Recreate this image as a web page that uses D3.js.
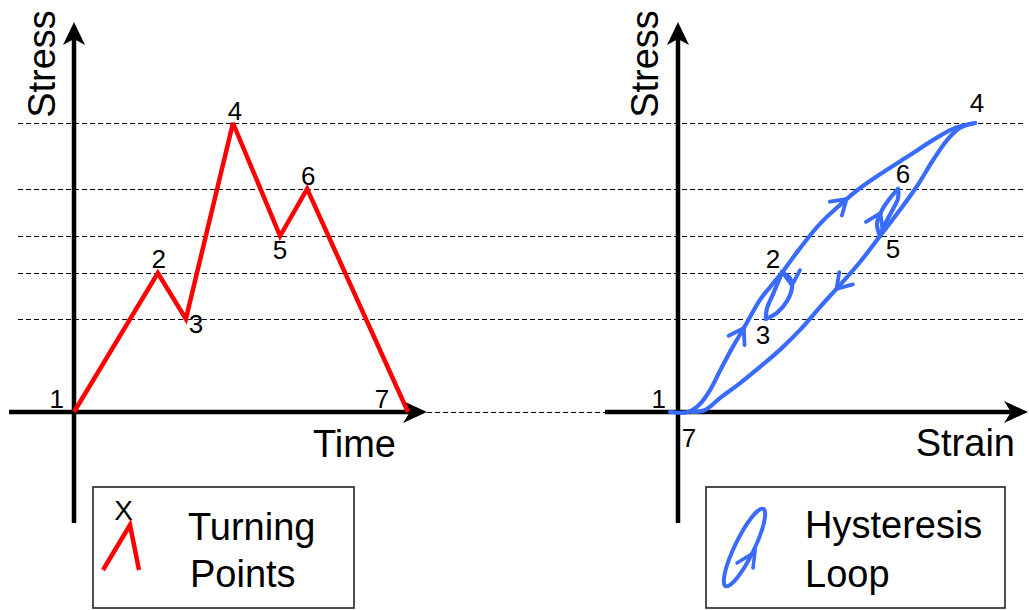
<!DOCTYPE html>
<html>
<head>
<meta charset="utf-8">
<script src="https://cdn.jsdelivr.net/npm/d3@7"></script>
<style>
  html, body { margin: 0; padding: 0; background: #ffffff; }
  svg { display: block; }
  text { font-family: "Liberation Sans", Arial, sans-serif; fill: #000; }
</style>
</head>
<body>
<svg id="chart" width="1029" height="610"></svg>
<script>
// Turning points of the stress history (left panel)
const pointLabels = ["1", "2", "3", "4", "5", "6", "7"];
const turnTime    = [0, 2.51, 3.35, 4.76, 6.17, 6.98, 10];
const turnStress  = [0, 4.81, 3.22, 10, 6.09, 7.72, 0];

// Stress-strain response (right panel), one array per reversal: [strain, stress]
const branch12 = [[-0.27, 0], [0.34, 0], [0.74, 0.28], [1.08, 0.76], [1.41, 1.42],
                  [1.82, 2.21], [2.26, 2.98], [2.76, 3.88], [3.13, 4.36], [3.50, 4.81]];
const branch23 = [[3.50, 4.81], [3.74, 4.67], [3.84, 4.33], [3.67, 3.84], [3.33, 3.43], [2.96, 3.22]];
const branch32 = [[2.96, 3.22], [2.99, 3.56], [3.20, 4.08], [3.50, 4.81]];
const branch24 = [[3.50, 4.81], [4.11, 5.67], [4.78, 6.51], [5.45, 7.16], [6.13, 7.75],
                  [6.97, 8.34], [7.81, 8.89], [8.65, 9.45], [9.33, 9.83], [10, 10]];
const branch45 = [[10, 10], [9.49, 9.83], [9.06, 9.41], [8.59, 8.72], [8.05, 7.82],
                  [7.47, 6.99], [6.80, 6.09]];
const branch56 = [[6.80, 6.09], [6.70, 6.51], [6.87, 6.99], [7.17, 7.44], [7.41, 7.72]];
const branch65 = [[7.41, 7.72], [7.41, 7.40], [7.17, 6.89], [6.94, 6.44], [6.80, 6.09]];
const branch57 = [[6.80, 6.09], [6.13, 5.19], [5.45, 4.39], [4.78, 3.63], [4.11, 2.84],
                  [3.43, 2.15], [2.76, 1.56], [2.09, 1.00], [1.41, 0.48], [0.91, 0.07], [0.47, 0]];
const hysteresisBranches = [branch12, branch23, branch32, branch24, branch45, branch56, branch65, branch57];

// Direction markers: [branch index, stress level at which the arrow sits]
const branchArrows = [[0, 2.91], [1, 4.39], [3, 7.37], [5, 6.89], [7, 4.26]];

// Labels for the right-panel turning points
const hystLabels = ["1", "2", "3", "4", "5", "6", "7"];

const RED = "#ff0000";
const BLUE = "#3a6bff";

const svg = d3.select("#chart");

// Scales
const xTime   = d3.scaleLinear().domain([0, 10]).range([74, 408]);
const yStress = d3.scaleLinear().domain([0, 10]).range([412, 123]);
const xStrain = d3.scaleLinear().domain([0, 10]).range([678, 975]);

// ---- Dashed reference levels at the turning-point stresses ----
const levels = Array.from(new Set(turnStress.filter(s => s > 0)));
const gGrid = svg.append("g");
gGrid.selectAll("line.level").data(levels).join("line")
  .attr("class", "level")
  .attr("x1", 18).attr("x2", 1026)
  .attr("y1", d => Math.round(yStress(d)) + 0.5).attr("y2", d => Math.round(yStress(d)) + 0.5)
  .attr("stroke", "#000").attr("stroke-width", 1.2)
  .attr("stroke-dasharray", "5,3");
gGrid.append("line")
  .attr("x1", 427).attr("x2", 606)
  .attr("y1", yStress(0) + 0.5).attr("y2", yStress(0) + 0.5)
  .attr("stroke", "#000").attr("stroke-width", 1.2)
  .attr("stroke-dasharray", "5,3");

// ---- Axes with arrowheads ----
function drawAxes(g, x0, y0, xStart, xTip, yBottom, yTip) {
  g.append("line").attr("x1", xStart).attr("x2", xTip - 16)
    .attr("y1", y0).attr("y2", y0).attr("stroke", "#000").attr("stroke-width", 4.5);
  g.append("line").attr("x1", x0).attr("x2", x0)
    .attr("y1", yBottom).attr("y2", yTip + 16).attr("stroke", "#000").attr("stroke-width", 4.5);
  g.append("path")
    .attr("d", `M${xTip},${y0} L${xTip - 24},${y0 - 11} L${xTip - 17},${y0} L${xTip - 24},${y0 + 11} Z`)
    .attr("fill", "#000");
  g.append("path")
    .attr("d", `M${x0},${yTip} L${x0 - 11},${yTip + 23} L${x0},${yTip + 17} L${x0 + 11},${yTip + 23} Z`)
    .attr("fill", "#000");
}
drawAxes(svg.append("g"), xTime(0), yStress(0), 9, 427, 523, 22);
drawAxes(svg.append("g"), xStrain(0), yStress(0), 605, 1028, 523, 22);

// Axis titles
svg.append("text").attr("transform", "translate(55,64) rotate(-90)")
  .attr("text-anchor", "middle").attr("font-size", 38).text("Stress");
svg.append("text").attr("x", 396).attr("y", 457)
  .attr("text-anchor", "end").attr("font-size", 38).text("Time");
svg.append("text").attr("transform", "translate(658,64) rotate(-90)")
  .attr("text-anchor", "middle").attr("font-size", 38).text("Stress");
svg.append("text").attr("x", 1015).attr("y", 456)
  .attr("text-anchor", "end").attr("font-size", 38).text("Strain");

// ---- Left panel: stress history ----
const history = turnTime.map((t, i) => [t, turnStress[i]]);
svg.append("path")
  .datum(history)
  .attr("d", d3.line().x(d => xTime(d[0])).y(d => yStress(d[1])))
  .attr("fill", "none").attr("stroke", RED).attr("stroke-width", 4.5)
  .attr("stroke-linejoin", "miter").attr("stroke-miterlimit", 3);

// Label offsets (px) around each turning point
const leftOffsets = [[-10, -4, "end"], [1, -5, "middle"], [10, 14, "middle"], [2, -3, "middle"],
                     [0, 23, "middle"], [1, -4, "middle"], [-26, -4, "middle"]];
svg.append("g").selectAll("text").data(pointLabels).join("text")
  .attr("x", (d, i) => xTime(turnTime[i]) + leftOffsets[i][0])
  .attr("y", (d, i) => yStress(turnStress[i]) + leftOffsets[i][1])
  .attr("text-anchor", (d, i) => leftOffsets[i][2])
  .attr("font-size", 26).text(d => d);

// ---- Right panel: hysteresis response ----
const hystLine = d3.line()
  .x(d => xStrain(d[0])).y(d => yStress(d[1]))
  .curve(d3.curveCatmullRom.alpha(0.5));
const gHyst = svg.append("g");
const branchPaths = gHyst.selectAll("path.branch").data(hysteresisBranches).join("path")
  .attr("class", "branch")
  .attr("d", hystLine)
  .attr("fill", "none").attr("stroke", BLUE).attr("stroke-width", 4.2)
  .attr("stroke-linecap", "round").attr("stroke-linejoin", "round");

// Open chevrons showing the direction of travel along a branch
function chevron(g, tip, dir, len, ang) {
  const back = [-dir[0], -dir[1]];
  const rot = a => [back[0] * Math.cos(a) - back[1] * Math.sin(a),
                    back[0] * Math.sin(a) + back[1] * Math.cos(a)];
  const w1 = rot(ang), w2 = rot(-ang);
  g.append("path")
    .attr("d", `M${tip[0] + w1[0] * len},${tip[1] + w1[1] * len} L${tip[0]},${tip[1]} L${tip[0] + w2[0] * len},${tip[1] + w2[1] * len}`)
    .attr("fill", "none").attr("stroke", BLUE).attr("stroke-width", 3.8)
    .attr("stroke-linecap", "round").attr("stroke-linejoin", "miter");
}
const nodes = branchPaths.nodes();
branchArrows.forEach(([bi, level]) => {
  const node = nodes[bi];
  const total = node.getTotalLength();
  const yTarget = yStress(level);
  let best = 0, bestD = Infinity;
  for (let s = 0; s <= total; s += 0.5) {
    const p = node.getPointAtLength(s);
    const dd = Math.abs(p.y - yTarget);
    if (dd < bestD) { bestD = dd; best = s; }
  }
  const p = node.getPointAtLength(best);
  const a = node.getPointAtLength(Math.max(0, best - 3));
  const b = node.getPointAtLength(Math.min(total, best + 3));
  const dx = b.x - a.x, dy = b.y - a.y, n = Math.hypot(dx, dy) || 1;
  chevron(gHyst, [p.x, p.y], [dx / n, dy / n], 17, Math.PI / 5.5);
});

// Turning-point labels on the hysteresis plot
const hystPoints = [branch12[0], branch12[branch12.length - 1], branch23[branch23.length - 1],
                    branch24[branch24.length - 1], branch45[branch45.length - 1],
                    branch56[branch56.length - 1], branch57[branch57.length - 1]];
const rightOffsets = [[-4, -4, "end"], [-9, -5, "middle"], [-3, 25, "middle"], [2, -11, "middle"],
                      [13, 22, "middle"], [5, -6, "middle"], [-3, 35, "middle"]];
svg.append("g").selectAll("text").data(hystLabels).join("text")
  .attr("x", (d, i) => xStrain(hystPoints[i][0]) + rightOffsets[i][0])
  .attr("y", (d, i) => yStress(hystPoints[i][1]) + rightOffsets[i][1])
  .attr("text-anchor", (d, i) => rightOffsets[i][2])
  .attr("font-size", 26).text(d => d);

// ---- Legends ----
const gLegL = svg.append("g");
gLegL.append("rect").attr("x", 93).attr("y", 487).attr("width", 261).attr("height", 121)
  .attr("fill", "none").attr("stroke", "#222").attr("stroke-width", 1.6);
gLegL.append("text").attr("x", 123.5).attr("y", 520).attr("text-anchor", "middle")
  .attr("font-size", 28).text("X");
gLegL.append("path").attr("d", "M103,570 L130,525 L139,570")
  .attr("fill", "none").attr("stroke", RED).attr("stroke-width", 4.5).attr("stroke-linejoin", "miter");
gLegL.append("text").attr("x", 188).attr("y", 540).attr("font-size", 38).text("Turning");
gLegL.append("text").attr("x", 190).attr("y", 587).attr("font-size", 38).text("Points");

const gLegR = svg.append("g");
gLegR.append("rect").attr("x", 706).attr("y", 487).attr("width", 299).attr("height", 121)
  .attr("fill", "none").attr("stroke", "#222").attr("stroke-width", 1.6);
gLegR.append("ellipse").attr("cx", 0).attr("cy", 0).attr("rx", 43).attr("ry", 9.5)
  .attr("transform", "translate(744.5,547.5) rotate(-64)")
  .attr("fill", "none").attr("stroke", BLUE).attr("stroke-width", 4);
gLegR.append("path").attr("d", "M737,563 L755,552 L753,568")
  .attr("fill", "none").attr("stroke", BLUE).attr("stroke-width", 3.5)
  .attr("stroke-linecap", "round").attr("stroke-linejoin", "miter");
gLegR.append("text").attr("x", 805).attr("y", 538).attr("font-size", 38).text("Hysteresis");
gLegR.append("text").attr("x", 805).attr("y", 587).attr("font-size", 38).text("Loop");
</script>
</body>
</html>
